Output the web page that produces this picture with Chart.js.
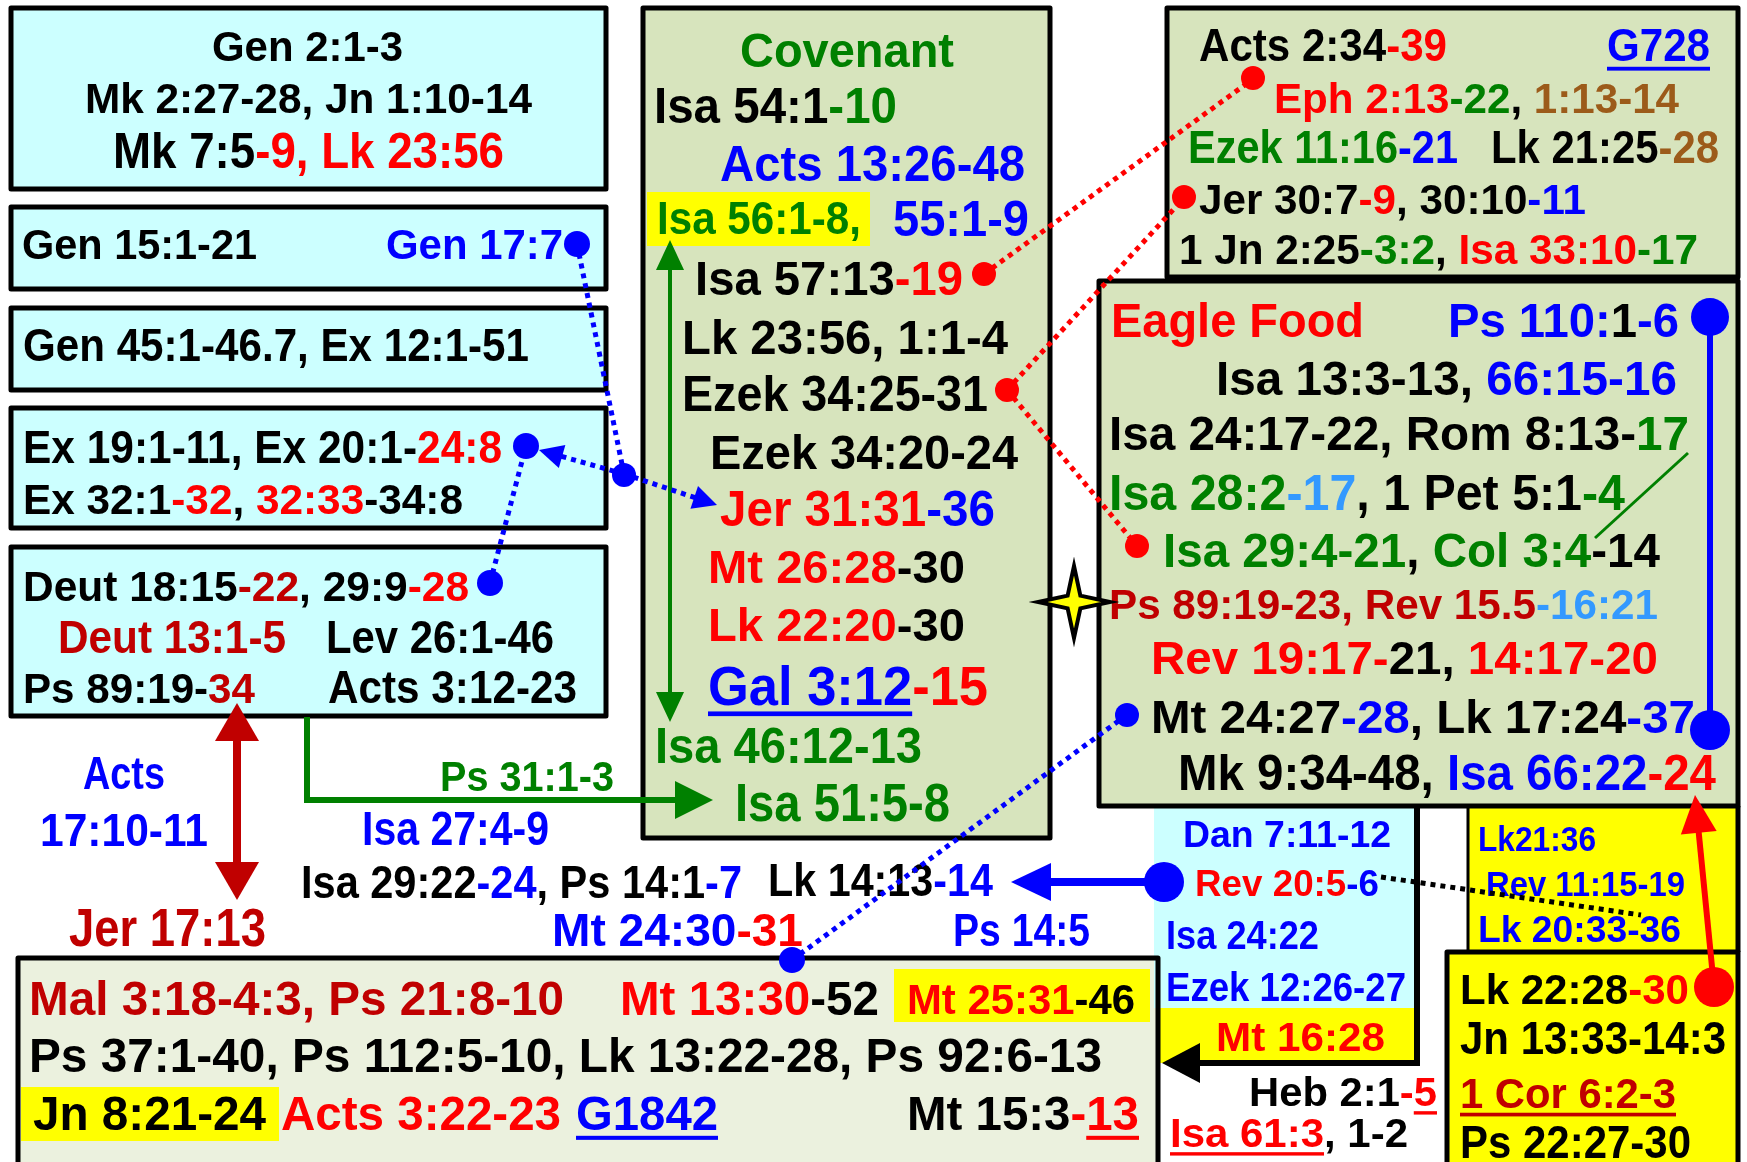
<!DOCTYPE html>
<html>
<head>
<meta charset="utf-8">
<title>Covenant / Eagle Food</title>
<script src="https://cdn.jsdelivr.net/npm/chart.js@4.4.1/dist/chart.umd.min.js"></script>
<style>
    html, body { margin: 0; padding: 0; background: #fff; overflow: hidden; }
    canvas { display: block; }
</style>
</head>
<body>
<canvas id="diagram" width="1747" height="1162"></canvas>
<script>
// Texts. "x:" = colour key, leading "_" = underlined, "|" splits segments
const leftBoxTexts = [
    'k:Gen 2:1-3', 'k:Mk 2:27-28, Jn 1:10-14', 'k:Mk 7:5|r:-9, Lk 23:56',
    'k:Gen 15:1-21', 'b:Gen 17:7',
    'k:Gen 45:1-46.7, Ex 12:1-51',
    'k:Ex 19:1-11, Ex 20:1-|r:24:8', 'k:Ex 32:1|r:-32|k:, |r:32:33|k:-34:8',
    'k:Deut 18:15|d:-22|k:, 29:9|r:-28', 'd:Deut 13:1-5', 'k:Lev 26:1-46',
    'k:Ps 89:19-|d:34', 'k:Acts 3:12-23'
];
const covenantTexts = [
    'g:Covenant', 'k:Isa 54:1|g:-10', 'b:Acts 13:26-48', 'g:Isa 56:1-8,', 'b:55:1-9',
    'k:Isa 57:13|r:-19', 'k:Lk 23:56, 1:1-4', 'k:Ezek 34:25-31', 'k:Ezek 34:20-24',
    'r:Jer 31:31|b:-36', 'r:Mt 26:28|k:-30', 'r:Lk 22:20|k:-30', '_b:Gal 3:12|r:-15',
    'g:Isa 46:12-13', 'g:Isa 51:5-8'
];
const topRightTexts = [
    'k:Acts 2:34|r:-39', '_b:G728', 'r:Eph 2:13|g:-22|k:, |o:1:13-14',
    'g:Ezek 11:16|b:-21', 'k:Lk 21:25|o:-28', 'k:Jer 30:7|r:-9|k:, 30:10|b:-11',
    'k:1 Jn 2:25|g:-3:2|k:, |r:Isa 33:10|g:-17'
];
const eagleTexts = [
    'r:Eagle Food', 'b:Ps 110:|k:1|b:-6', 'k:Isa 13:3-13, |b:66:15-16',
    'k:Isa 24:17-22, Rom 8:13-|g:17', 'g:Isa 28:2|l:-17|k:, 1 Pet 5:1|g:-4',
    'g:Isa 29:4-21|k:, |g:Col 3:4|k:-14', 'd:Ps 89:19-23, Rev 15.5|l:-16:21',
    'r:Rev 19:17-|k:21, |r:14:17-20', 'k:Mt 24:27|b:-28|k:, Lk 17:24|b:-37',
    'k:Mk 9:34-48, |b:Isa 66:22|r:-24'
];
const sideTexts = [
    'b:Dan 7:11-12', 'r:Rev 20:5|b:-6', 'b:Isa 24:22', 'b:Ezek 12:26-27', 'r:Mt 16:28',
    'b:Lk21:36', 'b:Rev 11:15-19', 'b:Lk 20:33-36',
    'k:Lk 22:28|r:-30', 'k:Jn 13:33-14:3', '_d:1 Cor 6:2-3', 'k:Ps 22:27-30',
    'k:Heb 2:1|r:-|_r:5', '_r:Isa 61:3|k:, 1-2'
];
const floatTexts = [
    'b:Acts', 'b:17:10-11', 'd:Jer 17:13', 'g:Ps 31:1-3', 'b:Isa 27:4-9',
    'k:Isa 29:22|b:-24|k:, Ps 14:1|b:-7', 'k:Lk 14:13|b:-14', 'b:Mt 24:30|r:-31', 'b:Ps 14:5'
];
const bottomTexts = [
    'd:Mal 3:18-4:3, Ps 21:8-10', 'r:Mt 13:30|k:-52', 'r:Mt 25:31|k:-46',
    'k:Ps 37:1-40, Ps 112:5-10, Lk 13:22-28, Ps 92:6-13',
    'k:Jn 8:21-24', 'r:Acts 3:22-23', '_b:G1842', 'k:Mt 15:3|r:-|_r:13'
];

// connector end points (dots)
const blueDots = [[577, 244], [526, 446], [490, 583], [624, 475], [792, 960], [1127, 715], [1710, 317], [1710, 730], [1164, 882]];
const redDots = [[984, 274], [1007, 390], [1253, 78], [1184, 197], [1137, 546], [1714, 987]];

// ---- layout: [left x, centre y, width, font size] per text line ----
const leftBoxPos = [[212, 45, 191, 40], [85, 97, 447, 40], [113, 150, 391, 46], [22, 243, 235, 40], [386, 243, 177, 40],
    [23, 345, 506, 42], [23, 447, 479, 42], [23, 498, 440, 40], [23, 585, 446, 40], [58, 637, 228, 42],
    [326, 637, 228, 42], [23, 687, 232, 40], [328, 687, 249, 42]];
const covenantPos = [[740, 50, 214, 44], [654, 105, 243, 46], [720, 163, 305, 46], [657, 218, 204, 42], [893, 218, 136, 46],
    [695, 278, 268, 44], [682, 337, 326, 44], [682, 393, 306, 46], [710, 452, 308, 44], [720, 508, 275, 46],
    [708, 567, 257, 42], [708, 625, 257, 42], [708, 685, 280, 51], [655, 745, 267, 46], [735, 802, 215, 49]];
const topRightPos = [[1199, 45, 248, 42], [1607, 45, 103, 42], [1274, 97, 405, 40], [1188, 147, 270, 42],
    [1491, 147, 228, 42], [1199, 198, 387, 40], [1179, 248, 519, 40]];
const eaglePos = [[1111, 320, 253, 44], [1448, 320, 231, 44], [1216, 378, 461, 44], [1109, 433, 580, 44],
    [1109, 492, 516, 46], [1163, 550, 497, 44], [1109, 603, 549, 40], [1151, 658, 507, 42],
    [1151, 717, 544, 42], [1178, 772, 538, 46]];
const sidePos = [[1183, 833, 208, 35], [1195, 882, 184, 35], [1166, 935, 153, 37], [1166, 987, 240, 37],
    [1216, 1037, 169, 37], [1478, 838, 118, 33], [1486, 883, 199, 33], [1478, 928, 203, 35],
    [1460, 988, 229, 40], [1460, 1038, 266, 42], [1460, 1092, 216, 40], [1460, 1142, 231, 42],
    [1249, 1092, 188, 37], [1170, 1133, 238, 37]];
const floatPos = [[83, 772, 82, 43], [40, 830, 168, 42], [69, 927, 197, 49], [440, 775, 174, 40], [362, 828, 187, 44],
    [301, 882, 441, 42], [768, 880, 225, 42], [552, 930, 251, 42], [953, 930, 137, 42]];
const bottomPos = [[29, 998, 535, 44], [620, 998, 259, 44], [907, 998, 228, 40], [29, 1055, 1073, 44],
    [33, 1113, 233, 44], [281, 1113, 280, 44], [576, 1113, 142, 44], [907, 1113, 232, 44]];

const FONT_SCALE = 1.08;
const colours = {k: '#000000', r: '#FF0000', d: '#C00000', g: '#008000', b: '#0000FF', l: '#3399FF', o: '#9C5B1A'};
const CYAN = '#CCFFFF', OLIVE = '#D7E4BD', PALE = '#EBF1DE', YELLOW = '#FFFF00';

// bordered panels [x1, y1, x2, y2, fill]
const panels = [
    [643, 8, 1050, 838, OLIVE],
    [11, 8, 606, 189, CYAN], [11, 207, 606, 289, CYAN], [11, 308, 606, 390, CYAN],
    [11, 408, 606, 528, CYAN], [11, 547, 606, 716, CYAN],
    [18, 958, 1158, 1180, PALE],
    [1167, 8, 1738, 277, OLIVE],
    [1099, 281, 1738, 806, OLIVE],
    [1447, 952, 1738, 1180, YELLOW]
];
// plain fills (no border)
const fills = [
    [1154, 806, 1417, 1008, CYAN], [1158, 1008, 1417, 1063, YELLOW], [1468, 806, 1738, 952, YELLOW],
    [647, 192, 870, 246, YELLOW], [894, 969, 1150, 1022, YELLOW], [21, 1087, 279, 1141, YELLOW]
];

const links = [
    {p: [[577, 244], [624, 474]], c: colours.b, w: 5, dash: true},
    {p: [[624, 474], [539, 450]], c: colours.b, w: 5, dash: true, head: 'end', len: 24, half: 12},
    {p: [[624, 474], [717, 505]], c: colours.b, w: 5, dash: true, head: 'end', len: 24, half: 12},
    {p: [[490, 583], [526, 446]], c: colours.b, w: 5, dash: true},
    {p: [[792, 960], [1128, 714]], c: colours.b, w: 5, dash: true},
    {p: [[984, 274], [1253, 79]], c: colours.r, w: 5, dash: true},
    {p: [[1007, 390], [1184, 198]], c: colours.r, w: 5, dash: true},
    {p: [[1007, 390], [1137, 546]], c: colours.r, w: 5, dash: true},
    {p: [[1381, 877], [1641, 915]], c: '#000', w: 5, dash: true},
    {p: [[307, 717], [307, 800], [713, 800]], c: colours.g, w: 6, head: 'end', len: 38, half: 19},
    {p: [[670, 240], [670, 722]], c: colours.g, w: 4, head: 'both', len: 30, half: 14},
    {p: [[237, 703], [237, 900]], c: colours.d, w: 8, head: 'both', len: 38, half: 22},
    {p: [[1164, 882], [1011, 882]], c: colours.b, w: 8, head: 'end', len: 40, half: 19},
    {p: [[1417, 806], [1417, 1063], [1162, 1063]], c: '#000', w: 6, head: 'end', len: 38, half: 20},
    {p: [[1714, 987], [1695, 795]], c: colours.r, w: 6, head: 'end', len: 38, half: 18},
    {p: [[1710, 317], [1710, 730]], c: colours.b, w: 6},
    {p: [[1688, 453], [1595, 538]], c: colours.g, w: 3},
    {p: [[1468, 806], [1468, 952]], c: '#000', w: 3},
    {p: [[1738, 806], [1738, 952]], c: '#000', w: 5}
];

// pull a line end back so it stops inside its arrow head
function trimEnd(a, b, len) {
    const dx = b[0] - a[0], dy = b[1] - a[1];
    const d = Math.hypot(dx, dy);
    return [b[0] - dx / d * len, b[1] - dy / d * len];
}

function linkData(l) {
    let pts = l.p.slice();
    if (l.head === 'end' || l.head === 'both') pts[pts.length - 1] = trimEnd(pts[pts.length - 2], pts[pts.length - 1], l.len * 0.8);
    if (l.head === 'both') pts[0] = trimEnd(pts[1], pts[0], l.len * 0.8);
    return pts.map(p => ({x: p[0], y: p[1]}));
}

function drawText(chart, markup, pos) {
    const ctx = chart.ctx, sx = chart.scales.x, sy = chart.scales.y;
    const [x, y, w] = pos;
    const size = pos[3] * FONT_SCALE;
    const segs = markup.split('|').map(s => {
        const u = s[0] === '_';
        if (u) s = s.slice(1);
        return {col: colours[s[0]], text: s.slice(2), u: u};
    });
    ctx.font = 'bold ' + size + 'px "Liberation Sans", Arial, sans-serif';
    segs.forEach(s => { s.w = ctx.measureText(s.text).width; });
    const total = segs.reduce((a, s) => a + s.w, 0);
    const left = sx.getPixelForValue(x);
    const fit = (sx.getPixelForValue(x + w) - left) / total;
    ctx.save();
    ctx.translate(left, sy.getPixelForValue(y) + size * 0.36);
    ctx.scale(fit, 1);
    ctx.textBaseline = 'alphabetic';
    let cx = 0;
    segs.forEach(s => {
        ctx.fillStyle = s.col;
        ctx.fillText(s.text, cx, 0);
        if (s.u) ctx.fillRect(cx, size * 0.12, s.w, Math.max(3, size * 0.085));
        cx += s.w;
    });
    ctx.restore();
}

function arrowHead(ctx, tip, from, len, half, colour) {
    const a = Math.atan2(tip[1] - from[1], tip[0] - from[0]);
    ctx.save();
    ctx.translate(tip[0], tip[1]);
    ctx.rotate(a);
    ctx.beginPath();
    ctx.moveTo(0, 0);
    ctx.lineTo(-len, -half);
    ctx.lineTo(-len, half);
    ctx.closePath();
    ctx.fillStyle = colour;
    ctx.fill();
    ctx.restore();
}

const diagramPlugin = {
    id: 'diagram',
    beforeDraw(chart) {
        const ctx = chart.ctx;
        ctx.save();
        ctx.fillStyle = '#fff';
        ctx.fillRect(0, 0, chart.width, chart.height);
        ctx.restore();
    },
    beforeDatasetsDraw(chart) {
        const ctx = chart.ctx, sx = chart.scales.x, sy = chart.scales.y;
        const rect = r => [sx.getPixelForValue(r[0]), sy.getPixelForValue(r[1]),
            sx.getPixelForValue(r[2]) - sx.getPixelForValue(r[0]), sy.getPixelForValue(r[3]) - sy.getPixelForValue(r[1])];
        ctx.save();
        panels.forEach(p => { ctx.fillStyle = p[4]; ctx.fillRect(...rect(p)); });
        fills.forEach(p => { ctx.fillStyle = p[4]; ctx.fillRect(...rect(p)); });
        ctx.strokeStyle = '#000';
        ctx.lineWidth = 5;
        ctx.lineJoin = 'round';
        panels.forEach(p => ctx.strokeRect(...rect(p)));
        ctx.restore();

        leftBoxTexts.forEach((t, i) => drawText(chart, t, leftBoxPos[i]));
        covenantTexts.forEach((t, i) => drawText(chart, t, covenantPos[i]));
        topRightTexts.forEach((t, i) => drawText(chart, t, topRightPos[i]));
        eagleTexts.forEach((t, i) => drawText(chart, t, eaglePos[i]));
        sideTexts.forEach((t, i) => drawText(chart, t, sidePos[i]));
        floatTexts.forEach((t, i) => drawText(chart, t, floatPos[i]));
        bottomTexts.forEach((t, i) => drawText(chart, t, bottomPos[i]));
    },
    afterDatasetsDraw(chart) {
        const ctx = chart.ctx, sx = chart.scales.x, sy = chart.scales.y;
        const P = p => [sx.getPixelForValue(p[0]), sy.getPixelForValue(p[1])];
        links.forEach(l => {
            if (!l.head) return;
            const n = l.p.length;
            arrowHead(ctx, P(l.p[n - 1]), P(l.p[n - 2]), l.len, l.half, l.c);
            if (l.head === 'both') arrowHead(ctx, P(l.p[0]), P(l.p[1]), l.len, l.half, l.c);
        });
        // four point star
        const c = P([1074, 602]);
        ctx.save();
        ctx.beginPath();
        for (let i = 0; i < 8; i++) {
            const a = i * Math.PI / 4 - Math.PI / 2;
            const r = i % 2 === 0 ? 36 : 9;
            ctx.lineTo(c[0] + r * Math.cos(a), c[1] + r * Math.sin(a));
        }
        ctx.closePath();
        ctx.fillStyle = YELLOW;
        ctx.fill();
        ctx.strokeStyle = '#000';
        ctx.lineWidth = 4;
        ctx.lineJoin = 'miter';
        ctx.stroke();
        ctx.restore();
    }
};

document.addEventListener('DOMContentLoaded', function () {
    const datasets = links.map(l => ({
        data: linkData(l),
        showLine: true,
        borderColor: l.c,
        borderWidth: l.w,
        borderDash: l.dash ? [5, 5] : [],
        borderCapStyle: 'butt',
        borderJoinStyle: 'miter',
        pointRadius: 0,
        fill: false,
        tension: 0,
        clip: false,
        order: 1
    }));
    datasets.push({
        data: blueDots.map(p => ({x: p[0], y: p[1]})),
        pointRadius: [13, 13, 13, 12, 13, 12, 19, 20, 20],
        pointBackgroundColor: colours.b,
        pointBorderWidth: 0,
        clip: false,
        order: 0
    });
    datasets.push({
        data: redDots.map(p => ({x: p[0], y: p[1]})),
        pointRadius: [12, 12, 12, 12, 12, 20],
        pointBackgroundColor: colours.r,
        pointBorderWidth: 0,
        clip: false,
        order: 0
    });

    new Chart(document.getElementById('diagram').getContext('2d'), {
        type: 'scatter',
        data: {datasets: datasets},
        options: {
            responsive: false,
            animation: false,
            events: [],
            layout: {padding: 0, autoPadding: false},
            plugins: {legend: {display: false}, tooltip: {enabled: false}},
            scales: {
                x: {type: 'linear', min: 0, max: 1747, display: false},
                y: {type: 'linear', min: 0, max: 1162, reverse: true, display: false}
            }
        },
        plugins: [diagramPlugin]
    });
});
</script>
</body>
</html>
